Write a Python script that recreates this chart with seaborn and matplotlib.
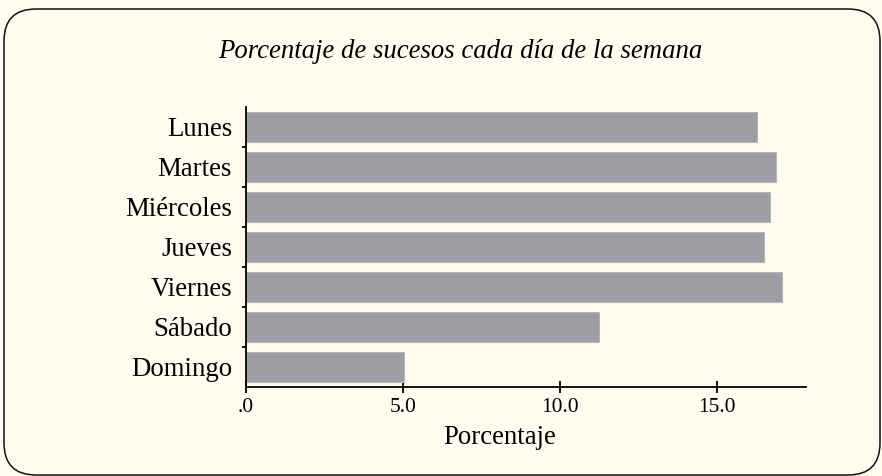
"""
Porcentaje de sucesos por día de la semana - horizontal bar chart
"""

import numpy as np
import pandas as pd
import matplotlib
matplotlib.use("Agg")
import matplotlib.pyplot as plt
from matplotlib.patches import FancyBboxPatch
from matplotlib.ticker import FixedLocator
import seaborn as sns

# Data
dias = ['Lunes', 'Martes', 'Miércoles', 'Jueves', 'Viernes', 'Sábado', 'Domingo']
porcentajes = [16.3, 16.9, 16.7, 16.5, 17.1, 11.25, 5.05]
xticks = [0.0, 5.0, 10.0, 15.0]
xtick_labels = ['.0', '5.0', '10.0', '15.0']

BG = '#fffbee'
BAR = '#9d9ea3'

sns.set_style("white")
plt.rcParams['font.family'] = ['Liberation Serif', 'DejaVu Serif']

df = pd.DataFrame({'dia': dias, 'pct': porcentajes})

fig = plt.figure(figsize=(8.82, 4.76), dpi=100, facecolor=BG)
ax = fig.add_axes([246 / 882, 1 - 387 / 476, 560 / 882, 280 / 476])
ax.set_facecolor(BG)

sns.barplot(data=df, x='pct', y='dia', orient='h', color=BAR, saturation=1,
            width=0.75, edgecolor='#b4b5b8', linewidth=0.8, ax=ax)

ax.set_xlim(0, 17.85)
ax.set_ylim(len(dias) - 0.5, -0.5)

# spines
for side in ['top', 'right']:
    ax.spines[side].set_visible(False)
for side in ['left', 'bottom']:
    ax.spines[side].set_color('black')
    ax.spines[side].set_linewidth(1.3)

# x axis
ax.set_xticks(xticks)
ax.set_xticklabels(xtick_labels)
ax.tick_params(axis='x', bottom=True, direction='inout', length=8, width=1.3,
               color='black', labelsize=15.5, pad=4, labelcolor='black')

# y axis: labels without ticks, small ticks at category boundaries
ax.tick_params(axis='y', which='major', left=True, length=0, labelsize=19.3,
               pad=10, labelcolor='black')
ax.yaxis.set_minor_locator(FixedLocator(np.arange(0.5, len(dias) - 1, 1.0)))
ax.tick_params(axis='y', which='minor', left=True, direction='out', length=3,
               width=1.3, color='black')

ax.set_ylabel('')
ax.set_xlabel('Porcentaje', fontsize=19.3, color='black')
ax.xaxis.label.set_va('center')
ax.xaxis.set_label_coords((500 - 246) / 560, (387 - 437) / 280)

fig.text(460 / 882, 1 - 52 / 476, 'Porcentaje de sucesos cada día de la semana',
         ha='center', va='center', fontsize=19.3, style='italic', color='black')

# rounded frame around the whole chart
frame = FancyBboxPatch((0.04, 0.01), 8.76, 4.66,
                       boxstyle='round,pad=0,rounding_size=0.32',
                       transform=fig.dpi_scale_trans, facecolor='none',
                       edgecolor='#111111', linewidth=1.1, zorder=0)
fig.patches.append(frame)

fig.savefig('out.png', dpi=100, facecolor=BG)
